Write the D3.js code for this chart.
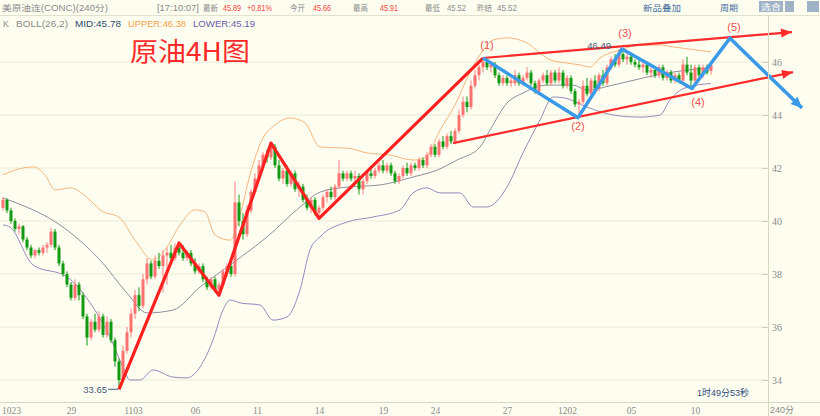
<!DOCTYPE html>
<html><head><meta charset="utf-8">
<script src="https://cdn.jsdelivr.net/npm/d3@7"></script>
<style>
html,body{margin:0;padding:0;background:#fefef0;}
svg{display:block;}
</style></head><body>
<svg id="c" width="820" height="416"></svg>
<script>
// ---------- data ----------
const xLabels = ["1023","29","1103","06","11","14","19","24","27","1202","05","10"];
const xLabelIdx = [2,17,32.5,48,63.5,79,95,108,126,141,157,173];
const yTicks = [34,36,38,40,42,44,46];

// [open, high, low, close]
const candles = [
[40.5,40.9,40.4,40.8],[40.8,40.85,40.3,40.4],[40.4,40.5,39.9,40.0],[40.0,40.1,39.6,39.7],[39.7,39.9,39.5,39.8],
[39.8,39.85,39.2,39.3],[39.3,39.4,38.9,39.0],[39.0,39.1,38.6,38.7],[38.7,38.95,38.6,38.9],[38.9,39.0,38.7,38.8],
[38.8,39.1,38.7,39.0],[39.0,39.2,38.8,39.1],[39.1,39.75,39.0,39.6],[39.6,39.7,38.9,39.0],[39.0,39.1,38.3,38.4],
[38.4,38.5,37.9,38.0],[38.0,38.1,37.5,37.6],[37.6,37.7,37.0,37.1],[37.1,37.8,37.0,37.6],[37.6,37.7,37.0,37.2],
[37.2,37.3,36.3,36.4],[36.4,36.5,35.3,35.6],[35.6,36.3,35.5,36.2],[36.2,36.5,35.8,35.9],[35.9,36.6,35.8,36.4],
[36.4,36.5,35.6,35.7],[35.7,36.4,35.6,36.2],[36.2,36.3,35.4,35.5],[35.5,35.6,34.5,34.7],[34.7,34.8,33.65,34.0],
[34.0,35.3,33.9,35.1],[35.1,36.0,35.0,35.8],[35.8,36.7,35.6,36.5],[36.5,37.4,36.3,37.2],[37.2,37.5,36.6,36.8],
[36.8,38.0,36.7,37.8],[37.8,38.6,37.6,38.4],[38.4,38.5,37.8,37.9],[37.9,38.7,37.8,38.5],[38.5,38.8,38.2,38.3],
[38.3,38.9,37.3,38.7],[38.7,39.0,37.6,38.8],[38.8,39.1,38.5,38.6],[38.6,39.15,38.5,39.0],[39.0,39.17,38.7,38.8],
[38.8,39.1,38.5,38.6],[38.6,38.9,38.5,38.8],[38.8,38.9,38.3,38.4],[38.4,38.6,38.0,38.1],[38.1,38.4,38.0,38.3],
[38.3,38.4,37.7,37.8],[37.8,37.9,37.4,37.5],[37.5,37.9,37.4,37.8],[37.8,37.9,37.3,37.4],[37.4,37.7,37.2,37.6],
[37.6,38.2,37.5,38.1],[38.1,38.4,37.9,38.3],[38.3,38.4,37.9,38.0],[38.0,41.5,37.9,40.7],[40.7,41.0,39.8,40.0],
[40.0,40.3,39.3,39.5],[39.5,40.6,39.4,40.4],[40.4,41.2,40.3,41.1],[41.1,41.8,41.0,41.6],[41.6,42.3,41.5,42.1],
[42.1,42.6,41.9,42.5],[42.5,42.7,42.2,42.4],[42.4,42.94,42.3,42.8],[42.8,42.9,42.0,42.1],[42.1,42.3,41.5,41.6],
[41.6,42.0,41.4,41.9],[41.9,42.1,41.3,41.4],[41.4,41.9,41.3,41.8],[41.8,41.9,41.1,41.2],[41.2,41.5,40.9,41.3],
[41.3,41.4,40.7,40.8],[40.8,41.0,40.4,40.5],[40.5,40.9,40.3,40.8],[40.8,40.9,40.2,40.3],[40.3,40.6,40.1,40.5],
[40.5,41.0,40.4,40.9],[40.9,41.2,40.7,41.1],[41.1,41.3,40.8,40.9],[40.9,41.4,40.8,41.3],[41.3,42.3,41.2,41.8],
[41.8,41.9,41.5,41.6],[41.6,41.9,41.5,41.8],[41.8,41.9,41.5,41.6],[41.6,41.9,41.4,41.7],[41.7,41.8,41.0,41.2],
[41.2,41.6,41.0,41.5],[41.5,41.9,41.4,41.8],[41.8,42.0,41.6,41.7],[41.7,42.0,41.6,41.9],[41.9,42.2,41.8,42.1],
[42.1,42.3,41.8,41.9],[41.9,42.2,41.8,42.1],[42.1,42.2,41.7,41.8],[41.8,41.9,41.4,41.5],[41.5,41.8,41.4,41.7],
[41.7,42.1,41.6,42.0],[42.0,42.2,41.7,41.8],[41.8,42.2,41.7,42.1],[42.1,42.2,41.9,42.0],[42.0,42.4,41.9,42.3],
[42.3,42.4,42.0,42.1],[42.1,42.6,42.0,42.5],[42.5,42.9,42.4,42.8],[42.8,42.9,42.4,42.5],[42.5,43.1,42.4,43.0],
[43.0,43.2,42.7,42.8],[42.8,43.3,42.7,43.2],[43.2,43.4,42.9,43.0],[43.0,43.5,42.9,43.4],[43.4,44.2,43.3,44.0],
[44.0,44.7,43.9,44.5],[44.5,44.7,44.1,44.3],[44.3,45.3,44.2,45.1],[45.1,45.7,45.0,45.5],[45.5,45.9,45.3,45.8],
[45.8,46.15,45.6,46.0],[46.0,46.1,45.7,45.8],[45.8,46.0,45.6,45.9],[45.9,46.0,45.4,45.5],[45.5,45.6,45.1,45.2],
[45.2,45.5,45.1,45.4],[45.4,45.5,45.1,45.2],[45.2,45.4,45.05,45.3],[45.2,45.7,45.1,45.5],[45.5,45.6,45.1,45.2],
[45.2,45.5,45.1,45.4],[45.4,45.8,45.3,45.6],[45.6,45.7,45.1,45.2],[45.2,45.3,44.8,44.9],[44.9,45.4,44.8,45.3],
[45.3,45.6,45.2,45.5],[45.5,45.7,45.1,45.2],[45.2,45.7,45.1,45.6],[45.6,45.7,45.2,45.3],[45.3,45.8,45.2,45.6],
[45.6,45.7,45.0,45.1],[45.1,45.5,45.0,45.4],[45.4,45.5,44.8,44.9],[44.9,45.0,44.3,44.4],[44.4,44.6,43.9,44.5],
[44.5,45.3,44.4,45.1],[45.1,45.4,44.7,44.8],[44.8,45.4,44.7,45.3],[45.3,45.5,44.9,45.0],[45.0,45.6,44.9,45.5],
[45.5,45.7,45.1,45.2],[45.2,45.9,45.1,45.8],[45.8,46.2,45.7,46.1],[46.1,46.3,45.8,45.9],[45.9,46.49,45.8,46.3],
[46.3,46.4,46.0,46.1],[46.1,46.3,45.9,46.2],[46.2,46.3,45.9,46.0],[46.0,46.1,45.8,45.9],[45.9,46.1,45.7,45.8],
[45.8,46.0,45.6,45.9],[45.9,46.0,45.5,45.6],[45.6,45.8,45.4,45.7],[45.7,45.8,45.4,45.5],[45.5,45.9,45.4,45.8],
[45.8,45.9,45.3,45.4],[45.4,45.7,45.3,45.6],[45.6,45.7,45.2,45.3],[45.3,45.6,45.2,45.5],[45.5,45.6,45.2,45.3],
[45.3,46.1,45.2,45.9],[45.9,46.2,45.5,45.6],[45.6,45.9,45.1,45.3],[45.3,45.9,45.2,45.8],[45.8,45.9,45.4,45.5],
[45.5,45.9,45.4,45.8],[45.8,45.9,45.52,45.6],[45.66,45.91,45.52,45.89]
];

// Bollinger bands: [bar index, price]
const upperBand = [[0,41.74],[3,41.92],[7.5,42.04],[10.5,41.74],[13,41.17],[16.75,41.25],[21.75,40.79],[24.25,40.42],
[29.25,40.11],[33,39.28],[37.5,38.53],[40.5,38.91],[44.25,39.85],[48,40.42],[50.5,40.34],[53,39.47],[56.75,39.28],
[59.25,40.23],[61.75,41.74],[64.75,43.06],[68,43.62],[71.75,43.89],[75.5,43.70],[79.25,42.79],[86,42.75],[91,42.57],
[96.75,42.49],[102.5,42.30],[105.5,42.38],[109.25,43.43],[113,44.38],[116.75,45.62],[120.5,46.53],[122.5,46.83],
[126,46.91],[131,46.72],[134.25,46.34],[136.75,46.08],[141,45.96],[144.25,45.89],[146.75,45.81],[149.25,46.15],
[154.25,46.45],[159.25,46.64],[164.25,46.64],[167.5,46.57],[173.5,46.45],[177,46.38]];
const midBand = [[0,40.87],[16,39.66],[24.25,38.53],[31,37.28],[36,36.53],[42.5,36.64],[49.25,37.51],[57.5,38.42],
[66,39.40],[74.25,40.53],[79.25,41.09],[86,41.28],[94.25,41.36],[102.5,41.66],[108.5,41.92],[113.5,42.30],
[119.25,42.79],[121.75,43.43],[126,44.45],[130,44.83],[136,45.13],[142.5,45.13],[146,44.94],[152.5,45.13],
[161,45.43],[167.5,45.62],[177,45.78]];
const lowerBand = [[0,39.85],[1.75,39.77],[7.5,38.34],[16,37.89],[22.5,36.75],[26.75,35.62],[30,34.49],[31.75,34.0],
[34.25,34.0],[37.5,34.38],[42.5,34.11],[46,34.08],[49.25,34.49],[52.5,35.51],[55,36.64],[56.75,37.02],[59.25,36.91],
[64.25,36.83],[67.5,36.26],[71,36.38],[74.25,37.40],[76.75,38.91],[79.25,39.40],[86,39.96],[92.5,40.15],[99.25,40.42],
[102.5,41.06],[106,41.25],[109.25,41.06],[114.25,41.06],[117.5,40.53],[121,40.53],[126,41.28],[130,42.57],
[134.25,43.81],[137.5,44.68],[140.5,44.64],[146,44.30],[152.5,44.0],[159.25,43.92],[164.25,44.0],[166.75,44.57],
[170.5,45.02],[177,45.19]];

// hand-drawn wave annotations: [bar index, price]
const redWave = [[29,33.65],[44,39.17],[54,37.2],[67,42.94],[79,40.1],[120,46.15]];
const blueWave = [[120,46.15],[143.75,43.9],[154.75,46.49],[172.25,45.0],[181.75,46.9],[199.75,44.26]];
const channelUpper = [[120,46.15],[197.25,47.13]];
const channelLower = [[112.5,42.94],[197.5,45.62]];
const waveLabels = ["(1)","(2)","(3)","(4)","(5)"];
const waveLabelPos = [[121,46.64],[143.75,43.58],[155.5,47.09],[173.75,44.49],[182.75,47.32]];

const quoteNames = ["最新","","今开","最高","最低","昨结"];
const quoteValues = ["45.89","+0.81%","45.66","45.91","45.52","45.52"];
const bollLegend = ["MID:45.78","UPPER:46.38","LOWER:45.19"];

// ---------- drawing ----------
const W = 820, H = 416;
const svg = d3.select("#c");
const CJK = "'Liberation Sans','Noto Sans CJK SC',sans-serif";
svg.append("rect").attr("width", W).attr("height", H).attr("fill", "#fefef0");

const x = d3.scaleLinear().domain([0, candles.length - 1]).range([3, 711]);
const y = d3.scaleLinear().domain([34, 46]).range([380, 62]);
const axisX = 768, axisY = 402;

// gridlines
svg.append("g").selectAll("line").data(yTicks).join("line")
  .attr("x1", 0).attr("x2", axisX).attr("y1", d => y(d)).attr("y2", d => y(d))
  .attr("stroke", "#ebead4").attr("stroke-width", 1);

// header
svg.append("line").attr("x1", 0).attr("x2", W).attr("y1", 15.5).attr("y2", 15.5).attr("stroke", "#e2e1cc");
const hdr = svg.append("g").attr("font-family", CJK).attr("font-size", 8.5);
function fit(g, xx, yy, w, col, txt) {
  return g.append("text").attr("x", xx).attr("y", yy).attr("fill", col)
    .attr("textLength", w).attr("lengthAdjust", "spacingAndGlyphs").text(txt);
}
fit(hdr, 2, 11, 106, "#8a8a8a", "美原油连(CONC)(240分)");
fit(hdr, 157, 11, 42, "#8a8a8a", "[17:10:07]");
const qNameX = [203, 0, 290, 353, 425, 477];
const qValX = [223, 247, 313, 380, 447, 497];
const qValW = [18, 25, 18, 18, 19, 20];
quoteNames.forEach((n, i) => {
  if (n) fit(hdr, qNameX[i], 11, 15, "#8a8a8a", n);
  fit(hdr, qValX[i], 11, qValW[i], i < 4 ? "#f04040" : "#8a8a8a", quoteValues[i]);
});
fit(hdr, 643, 11, 38, "#3a6a9c", "新品叠加");
fit(hdr, 720, 11, 18, "#3a6a9c", "周期");
[[759,24,"选合"],[785,9,""],[807,12,""]].forEach(b => {
  hdr.append("rect").attr("x", b[0]).attr("y", 1).attr("width", b[1]).attr("height", 11).attr("fill", "#9fb2c6");
  if (b[2]) fit(hdr, b[0] + 2, 10, 20, "#fff", b[2]);
});

const leg = svg.append("g").attr("font-family", CJK).attr("font-size", 9);
fit(leg, 3, 26.5, 6, "#8a8a8a", "K");
fit(leg, 16, 26.5, 52, "#8a8a8a", "BOLL(26,2)");
const legX = [75, 128, 193], legW = [46, 58, 62], legC = ["#2e4a6e", "#f3a04a", "#6a5aa8"];
bollLegend.forEach((t, i) => fit(leg, legX[i], 26.5, legW[i], legC[i], t));

svg.append("text").attr("x", 130).attr("y", 61).attr("font-family", "'Noto Sans CJK SC',sans-serif")
  .attr("font-size", 26).attr("fill", "#ff2b2b")
  .attr("textLength", 120).attr("lengthAdjust", "spacingAndGlyphs").text("原油4H图");

// Bollinger bands
const bandLine = d3.line().x(d => x(d[0])).y(d => y(d[1])).curve(d3.curveMonotoneX);
[[upperBand, "#f6b57a"], [midBand, "#8e8e9e"], [lowerBand, "#9788bd"]].forEach(([data, col]) => {
  svg.append("path").attr("d", bandLine(data)).attr("fill", "none").attr("stroke", col).attr("stroke-width", 1);
});

// candles
const cg = svg.append("g");
candles.forEach((d, i) => {
  const [o, h, l, c] = d;
  const up = c >= o;
  cg.append("line").attr("x1", x(i)).attr("x2", x(i)).attr("y1", y(h)).attr("y2", y(l))
    .attr("stroke", up ? "#ff8080" : "#139a13").attr("stroke-width", 1);
  const top = y(Math.max(o, c)), bot = y(Math.min(o, c));
  cg.append("rect").attr("x", x(i) - 1.5).attr("y", top).attr("width", 3).attr("height", Math.max(1, bot - top))
    .attr("fill", up ? "#ff7272" : "#139a13");
});

// annotations
const lin = d3.line().x(d => x(d[0])).y(d => y(d[1]));
function arrowHead(pts, col, len, wid) {
  const a = pts[pts.length - 2], b = pts[pts.length - 1];
  const ax = x(a[0]), ay = y(a[1]), bx = x(b[0]), by = y(b[1]);
  const ang = Math.atan2(by - ay, bx - ax);
  const p1 = [bx - len * Math.cos(ang) + wid / 2 * Math.sin(ang), by - len * Math.sin(ang) - wid / 2 * Math.cos(ang)];
  const p2 = [bx - len * Math.cos(ang) - wid / 2 * Math.sin(ang), by - len * Math.sin(ang) + wid / 2 * Math.cos(ang)];
  svg.append("path").attr("d", `M${bx},${by}L${p1[0]},${p1[1]}L${p2[0]},${p2[1]}Z`).attr("fill", col);
}
svg.append("path").attr("d", lin(redWave)).attr("fill", "none").attr("stroke", "#ff2020")
  .attr("stroke-width", 3.2).attr("stroke-linejoin", "round");
[channelUpper, channelLower].forEach(ch => {
  svg.append("path").attr("d", lin(ch)).attr("fill", "none").attr("stroke", "#ff2a2a").attr("stroke-width", 2.2);
  arrowHead(ch, "#ff2a2a", 11, 9);
});
svg.append("path").attr("d", lin(blueWave)).attr("fill", "none").attr("stroke", "#3a9ae8")
  .attr("stroke-width", 3.5).attr("stroke-linejoin", "round");
arrowHead(blueWave, "#3a9ae8", 11, 10);

svg.append("g").attr("font-family", "'Liberation Sans',sans-serif").attr("font-size", 11).attr("fill", "#f05050")
  .selectAll("text").data(waveLabels).join("text")
  .attr("x", (d, i) => x(waveLabelPos[i][0])).attr("y", (d, i) => y(waveLabelPos[i][1]) + 4)
  .attr("text-anchor", "middle").text(d => d);

// high / low markers
const lowIdx = 29, lowVal = 33.65, hiIdx = 154.75, hiVal = 46.49;
svg.append("line").attr("x1", x(lowIdx) - 11).attr("x2", x(lowIdx) - 1).attr("y1", y(lowVal)).attr("y2", y(lowVal)).attr("stroke", "#4a5a78");
svg.append("text").attr("x", x(lowIdx) - 12).attr("y", y(lowVal) + 3.5).attr("text-anchor", "end")
  .attr("font-family", "'Liberation Sans',sans-serif").attr("font-size", 9.5).attr("fill", "#4a5a78").text(lowVal.toFixed(2));
svg.append("text").attr("x", x(hiIdx) - 11).attr("y", y(hiVal)).attr("text-anchor", "end")
  .attr("font-family", "'Liberation Sans',sans-serif").attr("font-size", 9.5).attr("fill", "#4a5a78").text(hiVal.toFixed(2));

// axes
svg.append("line").attr("x1", 0).attr("x2", W).attr("y1", axisY + 0.5).attr("y2", axisY + 0.5).attr("stroke", "#d8d7c2");
svg.append("line").attr("x1", axisX + 0.5).attr("x2", axisX + 0.5).attr("y1", 15).attr("y2", H).attr("stroke", "#d8d7c2");

const yAxis = d3.axisRight(y).tickValues(yTicks).tickSizeInner(-6).tickSizeOuter(0).tickPadding(4).tickFormat(d3.format("d"));
const ya = svg.append("g").attr("transform", `translate(${axisX},0)`).call(yAxis);
ya.select(".domain").remove();
ya.selectAll("line").attr("stroke", "#d0cfba");
ya.selectAll("text").attr("fill", "#8a8a8a").attr("font-family", "'Liberation Serif',serif").attr("font-size", 10);

const xAxis = d3.axisBottom(x).tickValues(xLabelIdx).tickSize(0).tickPadding(5).tickFormat((d, i) => xLabels[i]);
const xa = svg.append("g").attr("transform", `translate(0,${axisY})`).call(xAxis);
xa.select(".domain").remove();
xa.selectAll("text").attr("fill", "#8a8a8a").attr("font-family", "'Liberation Serif',serif").attr("font-size", 9.5);

svg.append("text").attr("x", 770).attr("y", 413).attr("font-family", CJK).attr("font-size", 9).attr("fill", "#8a8a8a").text("240分");
svg.append("text").attr("x", 697).attr("y", 396).attr("font-family", CJK).attr("font-size", 9).attr("fill", "#2e4a7a").text("1时49分53秒");
</script></body></html>
